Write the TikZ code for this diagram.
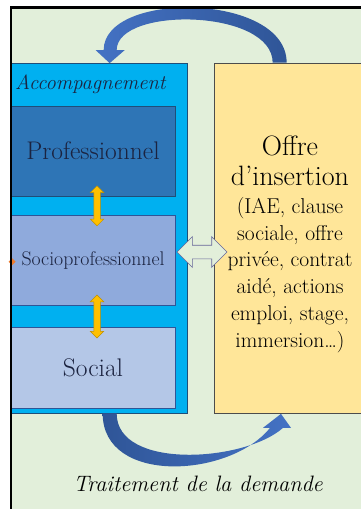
\documentclass[tikz,border=0pt]{standalone}
\usepackage{xcolor}
\usepackage{tikz}
\usetikzlibrary{shapes.arrows,arrows.meta,positioning,calc}
\definecolor{fondvert}{HTML}{E2EFDA}
\definecolor{accompbleu}{HTML}{00B0F0}
\definecolor{probleu}{HTML}{2E75B6}
\definecolor{sociobleu}{HTML}{8FAADC}
\definecolor{socialbleu}{HTML}{B4C7E7}
\definecolor{offrejaune}{HTML}{FFE699}
\definecolor{flechefonce}{HTML}{2F5597}
\definecolor{flecheclair}{HTML}{4472C4}
\definecolor{flechejaune}{HTML}{FFC000}
\definecolor{bordjaune}{HTML}{C09000}
\definecolor{bordbleu}{HTML}{1F4E79}
\definecolor{encre}{HTML}{1B2340}
\definecolor{marqueorange}{HTML}{ED7D31}

\begin{document}
\begin{tikzpicture}[x=1pt,y=-1pt,
  every node/.style={inner sep=0pt,text=encre},
  boite/.style={draw=bordbleu,line width=0.7pt,minimum width=164pt},
  flechejaunev/.style={double arrow,rotate=90,draw=bordjaune,fill=flechejaune,line width=0.5pt,
    inner xsep=0pt,inner ysep=3pt,double arrow head extend=3.5pt},
  flecheechange/.style={double arrow,draw=gray!80!blue,fill=fondvert,line width=0.6pt,
    inner xsep=0pt,inner ysep=6.5pt,double arrow head extend=8.5pt,minimum height=50pt}]
  \clip (0,0) rectangle (361,509);
  \fill[white] (0,0) rectangle (361,509);
  \fill[fondvert] (11,7.5) rectangle (400,540);
  % colonne accompagnement
  \node[draw=bordbleu,line width=0.7pt,fill=accompbleu,minimum width=176pt,minimum height=350pt] (accomp) at (99,238) {};
  \node[anchor=base west,font=\fontsize{20.6}{24}\selectfont\itshape] (accomptxt) at (15,89) {Accompagnement};
  \node[boite,fill=probleu,minimum height=90pt,font=\fontsize{25.5}{30}\selectfont] (prof) at (93,151) {Professionnel};
  \node[boite,draw=flechefonce,fill=sociobleu,minimum height=90pt,font=\fontsize{19.8}{24}\selectfont,below=19pt of prof] (socio) {Socioprofessionnel};
  \node[boite,draw=flechefonce,fill=socialbleu,minimum height=81pt,font=\fontsize{25.5}{30}\selectfont,below=21pt of socio] (social) {Social};
  % offre
  \node[draw=gray!60!black,line width=0.7pt,fill=offrejaune,minimum width=152pt,minimum height=350pt] (offre) at (290,238) {};
  \node[anchor=north,align=center,text=black,font=\fontsize{28}{30}\selectfont] (offretitre) at (290,135.6) {Offre\\d’insertion};
  \node[anchor=north,align=center,text=black,font=\fontsize{21.5}{26.8}\selectfont] (offreliste) at (290,197)
    {(IAE, clause\\sociale, offre\\privée, contrat\\aidé, actions\\emploi, stage,\\immersion…)};
  % fleches jaunes
  \node[flechejaunev,minimum height=40pt] (f1) at ($(prof.south)!0.5!(socio.north)+(4,0)$) {};
  \node[flechejaunev,minimum height=43pt] (f2) at ($(socio.south)!0.5!(social.north)+(4,0)$) {};
  \node[flecheechange] (echange) at (202,252) {};
  \fill[marqueorange] ($(socio.west)+(-2,1)$) -- ++(3.5,-3.5) -- ++(3.5,3.5) -- ++(-3.5,3.5) -- cycle;
  % fleches courbes
  \coordinate (hautD) at ($(offre.north west)+(66,0)$);
  \coordinate (hautG) at ($(accomp.north west)+(99,0.5)$);
  \shade[left color=flecheclair,right color=flechefonce]
    ($(hautD)+(7,0)$) .. controls +(0,-70) and +(0,-60) .. ($(hautG)+(-6,-13)$)
    -- ++(-8,0) -- (hautG) -- ($(hautG)+(15,-13)$) -- ++(-8,0)
    .. controls +(0,-44) and +(0,-54) .. ($(hautD)+(-7,0)$) -- cycle;
  \coordinate (basG) at ($(accomp.south west)+(92,0)$);
  \coordinate (basD) at ($(offre.south)+(-9,0.5)$);
  \shade[left color=flechefonce,right color=flecheclair]
    (basG) .. controls +(0,72) and +(-40,50) .. ($(basD)+(-11,14)$)
    -- ++(-7,0) -- (basD) -- ($(basD)+(10,14)$) -- ++(-8,0)
    .. controls +(-38,34) and +(0,57) .. ($(basG)+(14,0)$) -- cycle;
  \node[anchor=base,text=black,font=\fontsize{22.3}{26}\selectfont\itshape] (traitement) at (198,491) {Traitement de la demande};
  % cadre
  \draw[black,line width=2.2pt] (11,540) -- (11,7.5) -- (400,7.5);
\end{tikzpicture}
\end{document}
